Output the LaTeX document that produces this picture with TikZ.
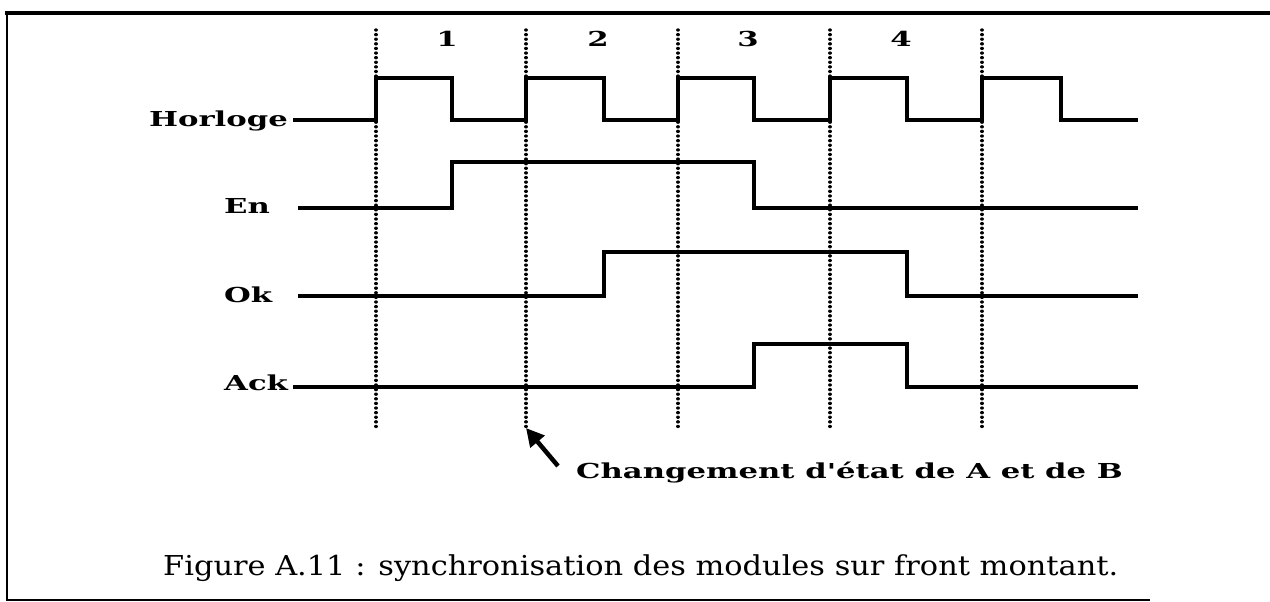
\documentclass[tikz,border=0pt]{standalone}
\usepackage{fontspec}
\usetikzlibrary{arrows.meta}
\newfontfamily\sigFont[FakeStretch=1.49]{DejaVu Serif}
\newfontfamily\capFont[FakeStretch=1.11]{DejaVu Serif}
\newcommand{\sigText}[1]{{\sigFont\bfseries\fontsize{20.6}{24}\selectfont #1}}

\begin{document}
\begin{tikzpicture}[x=1pt,y=-1pt,
  wave/.style={line width=3.6pt, line join=miter},
  tick/.style={line width=3.4pt, line cap=round, dash pattern=on 0.01pt off 4.6pt},
  frame/.style={line width=2.4pt}]
\useasboundingbox[fill=white] (0,0) rectangle (1270,602);
% cadre
\draw[frame, line width=4.5pt] (5,13) -- (1270,13);
\draw[frame] (7,12) -- (7,600) -- (1150,600);
% lignes de cycle
\draw[tick] (376,30) coordinate (t0) -- (376,428) coordinate (t0b);
\draw[tick] (526,30) coordinate (t1) -- (526,428) coordinate (t1b);
\draw[tick] (678,30) coordinate (t2) -- (678,428) coordinate (t2b);
\draw[tick] (830,30) coordinate (t3) -- (830,428) coordinate (t3b);
\draw[tick] (982,30) coordinate (t4) -- (982,428) coordinate (t4b);
\node[anchor=base, inner sep=0pt] (c1) at (447,47) {\sigText{1}};
\node[anchor=base, inner sep=0pt] (c2) at (598,47) {\sigText{2}};
\node[anchor=base, inner sep=0pt] (c3) at (748,47) {\sigText{3}};
\node[anchor=base, inner sep=0pt] (c4) at (901,47) {\sigText{4}};
% signaux
\node[anchor=base east, inner sep=0pt] (horloge) at (288,126) {\sigText{Horloge}};
\node[anchor=base west, inner sep=0pt] (en) at (224,213) {\sigText{En}};
\node[anchor=base west, inner sep=0pt] (ok) at (224,302) {\sigText{Ok}};
\node[anchor=base west, inner sep=0pt] (ack) at (224,390) {\sigText{Ack}};
\draw[wave] (293,120) -- (376,120) -- (376,78) -- (452,78) -- (452,120) -- (526,120)
  -- (526,78) -- (604,78) -- (604,120) -- (678,120) -- (678,78) -- (754,78) -- (754,120)
  -- (830,120) -- (830,78) -- (907,78) -- (907,120) -- (982,120) -- (982,78) -- (1061,78)
  -- (1061,120) -- (1138,120);
\draw[wave] (298,208) -- (452,208) -- (452,162) -- (754,162) -- (754,208) -- (1138,208);
\draw[wave] (298,296) -- (604,296) -- (604,252) -- (907,252) -- (907,296) -- (1138,296);
\draw[wave] (293,387) -- (754,387) -- (754,344) -- (907,344) -- (907,387) -- (1138,387);
% repere
\coordinate (pointe) at (558,466);
\draw[line width=4.5pt, -{Triangle[length=18pt,width=18pt]}] (pointe) -- (t1b);
\node[anchor=base west, inner sep=0pt] (etat) at (576,478) {\sigText{Changement d'état de A et de B}};
% legende
\node[anchor=base west, inner sep=0pt] (legende) at (163,575)
  {\capFont\fontsize{27.4}{32}\selectfont Figure A.11 : synchronisation des modules sur front montant.};
\end{tikzpicture}
\end{document}
